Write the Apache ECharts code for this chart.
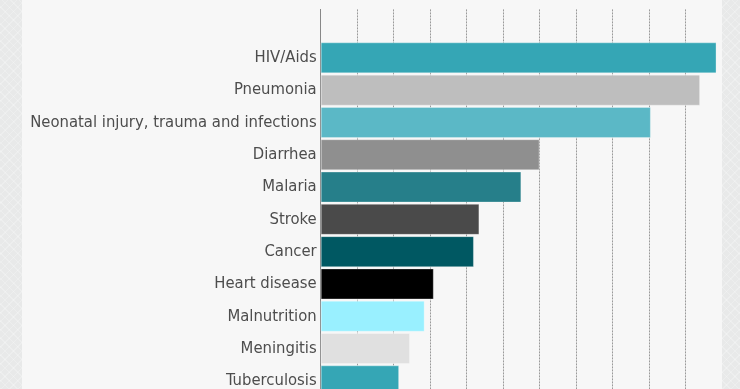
<!DOCTYPE html>
<html>
<head>
<meta charset="utf-8">
<script src="https://cdn.jsdelivr.net/npm/echarts@6/dist/echarts.min.js"></script>
<style>
html,body{margin:0;padding:0;width:740px;height:389px;overflow:hidden;}
body{background-color:#e8e9e9;
background-image:repeating-linear-gradient(45deg, rgba(255,255,255,0.22) 0 1px, transparent 1px 6px),
repeating-linear-gradient(-45deg, rgba(255,255,255,0.22) 0 1px, transparent 1px 6px);}
#chart{position:absolute;left:22px;top:0;width:700px;height:460px;background:#f7f7f7;}
</style>
</head>
<body>
<div id="chart"></div>
<script>
const categories = ['', 'HIV/Aids', 'Pneumonia', 'Neonatal injury, trauma and infections', 'Diarrhea', 'Malaria', 'Stroke', 'Cancer', 'Heart disease', 'Malnutrition', 'Meningitis', 'Tuberculosis'];
const values = [null, 21.7, 20.8, 18.1, 12.0, 11.0, 8.7, 8.4, 6.2, 5.7, 4.9, 4.3];
const colors = [null, '#35a6b5', '#bebebe', '#5bb8c6', '#8f8f8f', '#267f8a', '#4a4a4a', '#005862', '#000000', '#99f0ff', '#e0e0e0', '#35a6b5'];
const xMax = 22;
const xInterval = 2;

const chart = echarts.init(document.getElementById('chart'), null, {renderer: 'canvas'});
chart.setOption({
  animation: false,
  backgroundColor: '#f7f7f7',
  grid: {left: 298.7, right: 0, top: 9.4, height: 387.6, containLabel: false, outerBoundsMode: 'none'},
  xAxis: {
    type: 'value', min: 0, max: xMax, interval: xInterval,
    axisLine: {show: false}, axisTick: {show: false},
    axisLabel: {show: true, color: '#555'},
    splitLine: {show: true, lineStyle: {color: '#9a9a9a', type: [2, 1], width: 1}}
  },
  yAxis: {
    type: 'category', inverse: true, data: categories,
    axisLine: {show: true, lineStyle: {color: '#888', width: 1}},
    axisTick: {show: false},
    splitLine: {show: false},
    axisLabel: {color: '#4d4d4d', fontFamily: '"DejaVu Sans Condensed", "Liberation Sans Narrow", sans-serif', fontSize: 16.5, margin: 4, padding: [3, 0, 0, 0]}
  },
  series: [{
    type: 'bar',
    barCategoryGap: '4%',
    data: values.map((v, i) => ({value: v, itemStyle: {color: colors[i]}})),
    itemStyle: {borderColor: 'rgba(255,255,255,0.3)', borderWidth: 1}
  }]
});
</script>
</body>
</html>
